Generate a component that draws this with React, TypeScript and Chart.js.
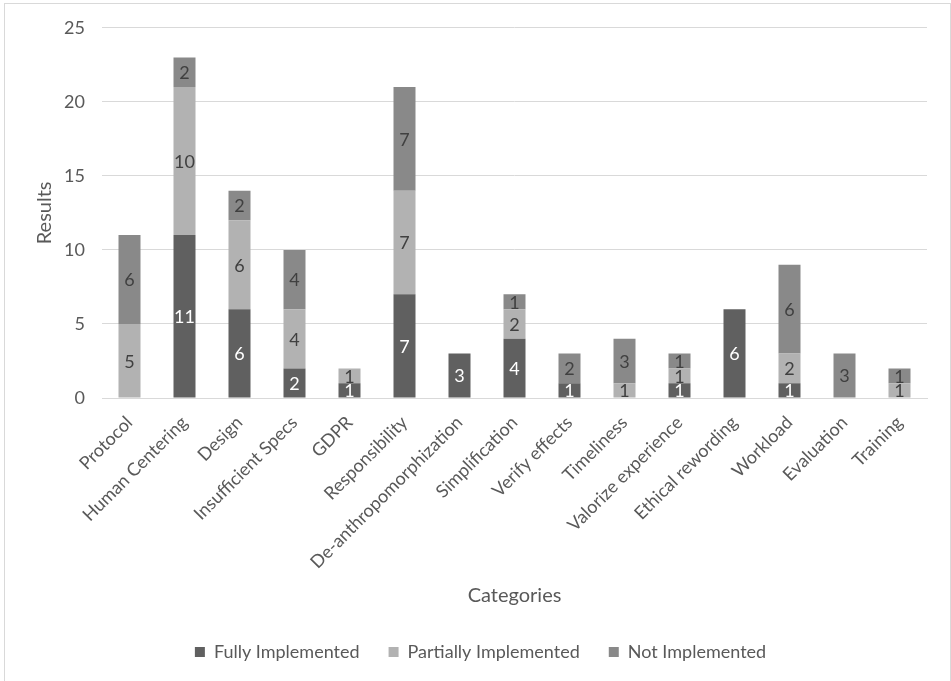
import React, { useEffect, useRef } from "react";
import { Chart, registerables } from "chart.js";

Chart.register(...registerables);

const categories = [
  "Protocol",
  "Human Centering",
  "Design",
  "Insufficient Specs",
  "GDPR",
  "Responsibility",
  "De-anthropomorphization",
  "Simplification",
  "Verify effects",
  "Timeliness",
  "Valorize experience",
  "Ethical rewording",
  "Workload",
  "Evaluation",
  "Training",
];
const fullyImplemented = [0, 11, 6, 2, 1, 7, 3, 4, 1, 0, 1, 6, 1, 0, 0];
const partiallyImplemented = [5, 10, 6, 4, 1, 7, 0, 2, 0, 1, 1, 0, 2, 0, 1];
const notImplemented = [6, 2, 2, 4, 0, 7, 0, 1, 2, 3, 1, 0, 6, 3, 1];
const seriesNames = ["Fully Implemented", "Partially Implemented", "Not Implemented"];
const yMin = 0;
const yMax = 25;
const yStep = 5;

const FONT = "Lato, 'Open Sans', sans-serif";
const TEXT = "#595959";
const GRID = "#d9d9d9";

const segLabels = {
  id: "segLabels",
  afterDatasetsDraw(chart: any) {
    const ctx = chart.ctx;
    ctx.save();
    ctx.font = `18px ${FONT}`;
    ctx.textAlign = "center";
    ctx.textBaseline = "middle";
    chart.data.datasets.forEach((ds: any, i: number) => {
      const meta = chart.getDatasetMeta(i);
      meta.data.forEach((el: any, j: number) => {
        const v = ds.data[j];
        if (!v) return;
        const { x, y, base } = el.getProps(["x", "y", "base"], true);
        ctx.fillStyle = i === 0 ? "#ffffff" : "#404040";
        ctx.fillText(String(v), x, (y + base) / 2 + 1);
      });
    });
    ctx.restore();
  },
};

const shiftLegend = {
  id: "shiftLegend",
  afterLayout(chart: any) {
    const lg = chart.legend;
    if (lg) {
      lg.left += 12;
      lg.right += 12;
    }
  },
};

export default function App() {
  const ref = useRef<HTMLCanvasElement | null>(null);

  useEffect(() => {
    let chart: Chart | null = null;
    let cancelled = false;
    const make = () => {
      if (cancelled || !ref.current) return;
      chart = new Chart(ref.current, {
        type: "bar",
        data: {
          labels: categories,
          datasets: [
            { label: seriesNames[0], data: fullyImplemented, backgroundColor: "#606060", borderWidth: 0 },
            { label: seriesNames[1], data: partiallyImplemented, backgroundColor: "#b2b2b2", borderWidth: 0 },
            { label: seriesNames[2], data: notImplemented, backgroundColor: "#898989", borderWidth: 0 },
          ],
        },
        options: {
          responsive: false,
          animation: false,
          events: [],
          layout: { padding: { left: 10, right: 24, top: 26, bottom: 0 } },
          datasets: { bar: { categoryPercentage: 1, barPercentage: 0.4 } },
          plugins: {
            tooltip: { enabled: false },
            legend: {
              position: "bottom",
              labels: {
                boxWidth: 10,
                boxHeight: 10,
                padding: 29,
                color: TEXT,
                font: { family: FONT, size: 18 },
              },
            },
          },
          scales: {
            x: {
              stacked: true,
              grid: { display: false, drawTicks: false },
              border: { display: true, color: GRID, width: 1 },
              ticks: {
                color: TEXT,
                font: { family: FONT, size: 18 },
                maxRotation: 45,
                minRotation: 45,
                padding: 14,
                autoSkip: false,
              },
              title: {
                display: true,
                text: "Categories",
                color: TEXT,
                font: { family: FONT, size: 20 },
                padding: { top: 4, bottom: 6 },
              },
              afterFit(scale: any) {
                scale.height = 216;
              },
            },
            y: {
              stacked: true,
              min: yMin,
              max: yMax,
              ticks: {
                stepSize: yStep,
                color: TEXT,
                font: { family: FONT, size: 18 },
                padding: 17,
              },
              grid: { color: GRID, lineWidth: 1, drawTicks: false },
              border: { display: false },
              title: {
                display: true,
                text: "Results",
                color: TEXT,
                font: { family: FONT, size: 20 },
                padding: { top: 23, bottom: 4 },
              },
              afterFit(scale: any) {
                scale.width = 92;
              },
            },
          },
        },
        plugins: [segLabels, shiftLegend],
      });
    };
    const fonts: any = (document as any).fonts;
    if (fonts && fonts.load) {
      Promise.all([fonts.load(`18px Lato`), fonts.load(`20px Lato`)]).then(make, make);
    } else {
      make();
    }
    return () => {
      cancelled = true;
      if (chart) chart.destroy();
    };
  }, []);

  return (
    <div
      style={{
        position: "fixed",
        left: 0,
        top: 0,
        width: 951,
        height: 681,
        overflow: "hidden",
        background: "#ffffff",
      }}
    >
      <canvas
        ref={ref}
        width={951}
        height={671}
        style={{ position: "absolute", left: 0, top: 0, width: 951, height: 671 }}
      />
      <div
        style={{
          position: "absolute",
          left: 4,
          top: 3,
          width: 945,
          height: 700,
          border: `1px solid ${GRID}`,
          pointerEvents: "none",
        }}
      />
    </div>
  );
}
